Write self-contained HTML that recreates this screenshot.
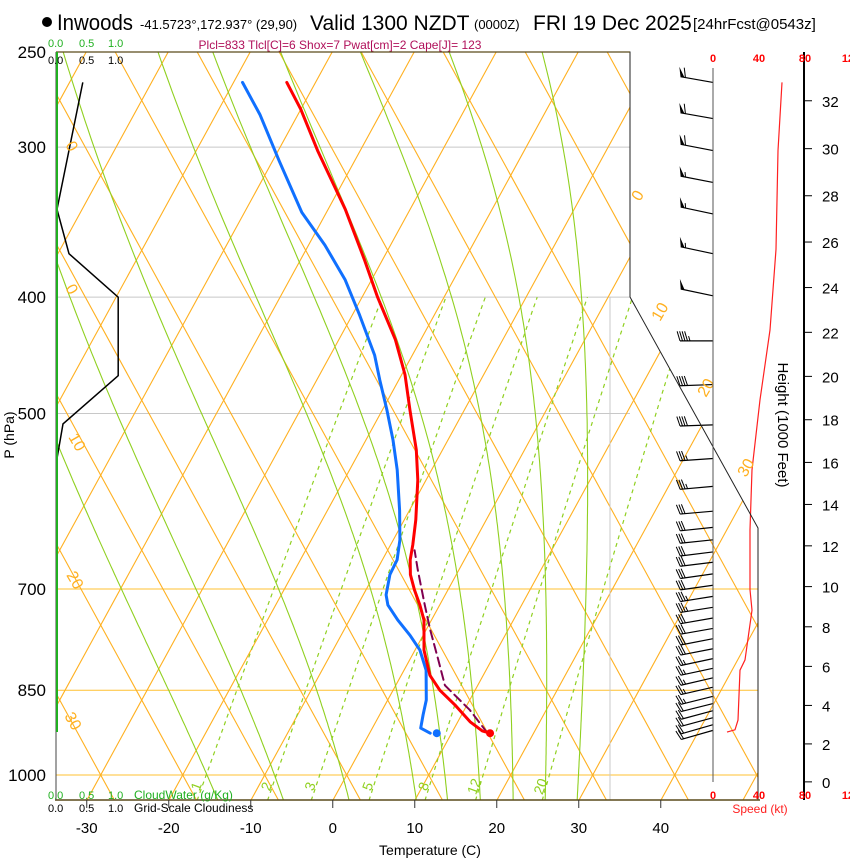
<!DOCTYPE html>
<html><head><meta charset="utf-8">
<style>
html,body{margin:0;padding:0;background:#fff;}
svg{display:block;font-family:"Liberation Sans",sans-serif;}
</style></head>
<body>
<svg id="chart" width="850" height="860" viewBox="0 0 850 860" xmlns="http://www.w3.org/2000/svg">
<defs>
<clipPath id="plotclip"><polygon points="56,52 630,52 630,297 758,528 758,800 56,800"/></clipPath>
</defs>
<g>
<circle cx="47" cy="22" r="5" fill="#000"/>
<text x="57" y="30" font-size="22" textLength="76" lengthAdjust="spacingAndGlyphs">Inwoods</text>
<text x="140" y="29" font-size="13">-41.5723°,172.937° (29,90)</text>
<text x="310" y="30" font-size="21">Valid 1300 NZDT</text>
<text x="474" y="29" font-size="13">(0000Z)</text>
<text x="533" y="30" font-size="21">FRI 19 Dec 2025</text>
<text x="693" y="29" font-size="15">[24hrFcst@0543z]</text>
</g>
<text x="340" y="49" font-size="12" fill="#b0105a" text-anchor="middle">Plcl=833 Tlcl[C]=6 Shox=7 Pwat[cm]=2 Cape[J]= 123</text>
<g id="grid" clip-path="url(#plotclip)"></g>
<g id="marks"></g>
<g id="axes"></g>
</svg>
<script>
const NS="http://www.w3.org/2000/svg";
// ---- data ----
const tempP=[265,279,302,338,373,400,434,464,497,536,568,613,643,662,681,701,722,743,787,826,850,874,903,919,923];
const tempT=[-53.5,-50.0,-45.2,-37.9,-32.1,-28.1,-23.1,-19.6,-16.6,-13.2,-11.0,-8.6,-7.3,-6.6,-5.6,-4.1,-2.4,-0.9,1.1,3.5,5.7,8.5,11.5,13.6,14.7];
const dewP=[265,282,308,340,362,387,414,447,469,497,526,557,602,637,662,681,708,722,743,765,787,818,866,891,914,923];
const dewT=[-58.9,-54.6,-49.2,-43.0,-38.0,-33.2,-29.1,-24.6,-22.3,-19.4,-16.7,-14.2,-11.2,-9.2,-8.2,-8.1,-7.2,-6.3,-4.1,-1.6,0.6,2.7,4.7,5.3,5.9,7.4];
const parcelP=[923,883,842,802,757,722,675,650];
const parcelT=[14.4,10.7,6.0,3.5,0.5,-1.8,-5.0,-6.7];
const surfP=923, surfT=14.7, surfTd=8.2;
const speedP=[265,302,365,426,487,557,625,701,729,802,818,900,917,921];
const speedKt=[60,56.5,54.8,49.6,40.9,33.9,32.2,32.2,33.9,27.8,23.5,21.7,19.1,12.2];
const barbP=[265,284,302,321,341,368,399,435,473,511,545,575,603,622,637,652,665,680,695,710,725,740,755,770,785,800,815,830,845,860,872,884,896,908,918];
const barbKt=[58,58,58,57,56,55,52,47,42,38,35,33,32,32,32,32,32,32,32,33,33,32,30,29,28,27,26,25,24,23,22,22,21,20,19];
const barbDir=[280,280,281,281,282,282,282,270,268,268,266,265,265,264,264,263,263,262,262,261,261,260,260,259,259,258,258,257,257,256,256,255,255,254,254];
const cloudP=[265,338,368,400,465,510,545];
const cloudFrac=[0.43,0.0,0.2,1.02,1.02,0.1,0.0];
const tempTicks=[-30,-20,-10,0,10,20,30,40];
const presTicks=[250,300,400,500,700,850,1000];
const heightTicks=[0,2,4,6,8,10,12,14,16,18,20,22,24,26,28,30,32];
const speedTicks=[0,40,80,120];
const mixRatios=[1,2,3,5,8,12,20];
const moistStartT=[-14,-6,2,10.2,14,18,22,25.9,29.8];

// ---- axis functions ----
const Y=p=>775+521.5*Math.log(p/1000);
const X=(T,p)=>333+8.2*T+0.547*(800-Y(p));
const SX=s=>713+1.15*s;
const CX=f=>57+60*f;
const pStd=h=>{const z=h*304.8;return 1013.25*Math.pow(1-6.5e-3*z/288.15,5.256);};

function el(tag,attrs,parent){const e=document.createElementNS(NS,tag);for(const k in attrs)e.setAttribute(k,attrs[k]);parent.appendChild(e);return e;}
const grid=document.getElementById('grid'),marks=document.getElementById('marks'),axes=document.getElementById('axes');

// isobars
presTicks.forEach(p=>{
 const y=Y(p);const yellow=p>=700;
 const l=el('line',{x1:56,x2:yellow?758:630,y1:y,y2:y,stroke:yellow?'#ffc030':'#c8c8c8','stroke-width':1},grid);
 
 
});
// isotherms and mirrored lines
for(let k=-12;k<16;k++){
 const x0=100.7+82*k;
 const a=el('line',{x1:x0+0.547*(775-820),y1:820,x2:x0+0.547*(775-40),y2:40,stroke:'#ffb020','stroke-width':1.1},grid);
 
 
 const b=el('line',{x1:x0-0.547*(775-820),y1:820,x2:x0-0.547*(775-40),y2:40,stroke:'#ffb020','stroke-width':1.1},grid);
 
 
}
// grey vertical
const gv=el('line',{x1:610,x2:610,y1:297,y2:800,stroke:'#c8c8c8','stroke-width':1},grid);


// mixing ratio
function tdFromW(w,p){const e=w*p/(622+w);const l=Math.log(e/6.112);return 243.5*l/(17.67-l);}
mixRatios.forEach(w=>{
 let d='';for(let p=1050;p>=400;p-=10){d+=(p===1050?'M':'L')+X(tdFromW(w,p),p).toFixed(1)+','+Y(p).toFixed(1);}
 const pa=el('path',{d:d,fill:'none',stroke:'#90d020','stroke-width':1.2,'stroke-dasharray':'4,4'},grid);
 
 
 const lx=X(tdFromW(w,1030),1030),ly=788;
 const t=el('text',{x:lx,y:ly,'font-size':14,fill:'#90d020','text-anchor':'middle',transform:`rotate(-70 ${lx} ${ly})`},grid);
 t.textContent=w;
 
 
});
// moist adiabats
function es(T){return 6.112*Math.exp(17.67*T/(T+243.5));}
moistStartT.forEach(T0=>{
 let T=T0+273.15,p=1050,d='';
 d='M'+X(T0,p).toFixed(1)+','+Y(p).toFixed(1);
 while(p>250){
  const e=es(T-273.15),rs=0.622*e/(p-e);
  const num=287*T+2.5e6*rs, den=1004+2.5e6*2.5e6*rs*0.622/(287*T*T);
  const dT=num/den/p*(-5);
  T+=dT;p-=5;
  d+='L'+X(T-273.15,p).toFixed(1)+','+Y(p).toFixed(1);
 }
 const pa=el('path',{d:d,fill:'none',stroke:'#90d020','stroke-width':1.1},grid);
 
 
});
// orange labels
[['0',65,145,60],['0',65,288,60],['10',68,437,60],['20',66,575,60],['30',64,716,60],['0',640,202,-60],['10',660,322,-60],['20',706,398,-60],['30',746,478,-60]].forEach(a=>{
 const t=el('text',{x:a[1],y:a[2],'font-size':16,fill:'#ffb020',transform:`rotate(${a[3]} ${a[1]} ${a[2]})`},axes);
 t.textContent=a[0];
 
 
});
// frame
const fr=el('polyline',{points:'56,52 630,52 630,297 758,528 758,800',fill:'none',stroke:'#222','stroke-width':1},axes);


el('line',{x1:56,x2:630,y1:52,y2:52,stroke:'#5a4a1a','stroke-width':1.3},axes);
const xa=el('line',{x1:55,x2:760,y1:800,y2:800,stroke:'#5a4a1a','stroke-width':1.5},axes);


const ya=el('line',{x1:56,x2:56,y1:52,y2:800,stroke:'#444','stroke-width':1},axes);


el('line',{x1:57,x2:57,y1:52,y2:732,stroke:'#20b020','stroke-width':2},axes);
// temp ticks
tempTicks.forEach(T=>{
 const x=X(T,1050);
 el('line',{x1:x,x2:x,y1:800,y2:808,stroke:'#333'},axes);
 const t=el('text',{x:x,y:833,'font-size':15,'text-anchor':'middle'},axes);
 t.textContent=T;
 
 
});
const xt=el('text',{x:430,y:855,'font-size':14,'text-anchor':'middle'},axes);xt.textContent='Temperature (C)';


presTicks.forEach(p=>{
 const t=el('text',{x:46,y:Y(p)+6,'font-size':17,'text-anchor':'end'},axes);
 t.textContent=p;
 
 
});
const yt=el('text',{x:14,y:435,'font-size':14,'text-anchor':'middle',transform:'rotate(-90 14 435)'},axes);yt.textContent='P (hPa)';


// cloud scale labels
[['#20b020',47],['#000',64]].forEach((c,i)=>{
 [['0.0',48],['0.5',79],['1.0',108]].forEach(a=>{const t=el('text',{x:a[1],y:c[1],'font-size':11,fill:c[0]},axes);t.textContent=a[0];});
});
[['#20b020',799,'CloudWater (g/Kg)'],['#000',812,'Grid-Scale Cloudiness']].forEach(c=>{
 [['0.0',48],['0.5',79],['1.0',108]].forEach(a=>{const t=el('text',{x:a[1],y:c[1],'font-size':11,fill:c[0]},axes);t.textContent=a[0];});
 const t=el('text',{x:134,y:c[1],'font-size':12,fill:c[0]},axes);t.textContent=c[2];
 
 
});
// cloud line
{let d='';cloudP.forEach((p,i)=>{d+=(i?'L':'M')+CX(cloudFrac[i]).toFixed(1)+','+Y(p).toFixed(1);});
const c=el('path',{d:d,fill:'none',stroke:'#000','stroke-width':1.5},marks);

}
// profiles
function prof(P,T,color,w,dash,name){
 let d='';P.forEach((p,i)=>{d+=(i?'L':'M')+X(T[i],p).toFixed(1)+','+Y(p).toFixed(1);});
 const a={d:d,fill:'none',stroke:color,'stroke-width':w,'stroke-linejoin':'round','stroke-linecap':'round'};if(dash)a['stroke-dasharray']=dash;
 const pa=el('path',a,marks);
 
 
}
prof(dewP,dewT,'#1070ff',3,null,'dewpoint-line');
prof(parcelP,parcelT,'#800050',2,'9,5','parcel-line');
prof(tempP,tempT,'#ff0000',3,null,'temperature-line');
const sd=el('circle',{cx:X(surfT,surfP),cy:Y(surfP),r:4,fill:'#ff0000'},marks);


const dd=el('circle',{cx:X(surfTd,surfP),cy:Y(surfP),r:4,fill:'#1070ff'},marks);


// wind panel
el('line',{x1:713,x2:713,y1:68,y2:782,stroke:'#555','stroke-width':1},axes);
const ha=el('line',{x1:804,x2:804,y1:52,y2:800,stroke:'#000','stroke-width':2},axes);


speedTicks.forEach(s=>{
 [62,799].forEach(y=>{const t=el('text',{x:SX(s),y:y,'font-size':11,'font-weight':'bold',fill:'#ff0000','text-anchor':'middle'},axes);t.textContent=s;
 
 });
});
const st=el('text',{x:760,y:813,'font-size':12,fill:'#ff2020','text-anchor':'middle'},axes);st.textContent='Speed (kt)';


heightTicks.forEach(h=>{
 const y=Y(pStd(h));
 el('line',{x1:804,x2:812,y1:y,y2:y,stroke:'#000'},axes);
 const t=el('text',{x:822,y:y+6,'font-size':15},axes);t.textContent=h;
 
 
});
const ht=el('text',{x:778,y:425,'font-size':15,'text-anchor':'middle',transform:'rotate(90 778 425)'},axes);ht.textContent='Height (1000 Feet)';


{let d='';speedP.forEach((p,i)=>{d+=(i?'L':'M')+SX(speedKt[i]).toFixed(1)+','+Y(p).toFixed(1);});
const c=el('path',{d:d,fill:'none',stroke:'#ff2020','stroke-width':1.2},marks);

}
barbP.forEach((p,i)=>{
 const g=el('g',{},marks);
 
 
 const y=Y(p),dr=barbDir[i]*Math.PI/180;
 const ux=Math.sin(dr),uy=-Math.cos(dr),L=33;
 const ex=713+ux*L,ey=y+uy*L;
 el('line',{x1:713,y1:y,x2:ex,y2:ey,stroke:'#000','stroke-width':1.2},g);
 let px=uy,py=-ux; if(py>0){px=-px;py=-py;}
 let fx=px+ux*0.3,fy=py+uy*0.3;const n=Math.hypot(fx,fy);fx/=n;fy/=n;
 let s=Math.round(barbKt[i]/5)*5,pos=0;
 while(s>=50){const bx=ex-ux*pos,by=ey-uy*pos;
  el('polygon',{points:`${bx},${by} ${bx+fx*10},${by+fy*10} ${bx-ux*4},${by-uy*4}`,fill:'#000'},g);pos+=5;s-=50;}
 while(s>=10){const bx=ex-ux*pos,by=ey-uy*pos;
  el('line',{x1:bx,y1:by,x2:bx+fx*10,y2:by+fy*10,stroke:'#000','stroke-width':1},g);pos+=2.5;s-=10;}
 if(s>=5){const bx=ex-ux*pos,by=ey-uy*pos;
  el('line',{x1:bx,y1:by,x2:bx+fx*5,y2:by+fy*5,stroke:'#000','stroke-width':1},g);}
});
</script>
</body></html>
